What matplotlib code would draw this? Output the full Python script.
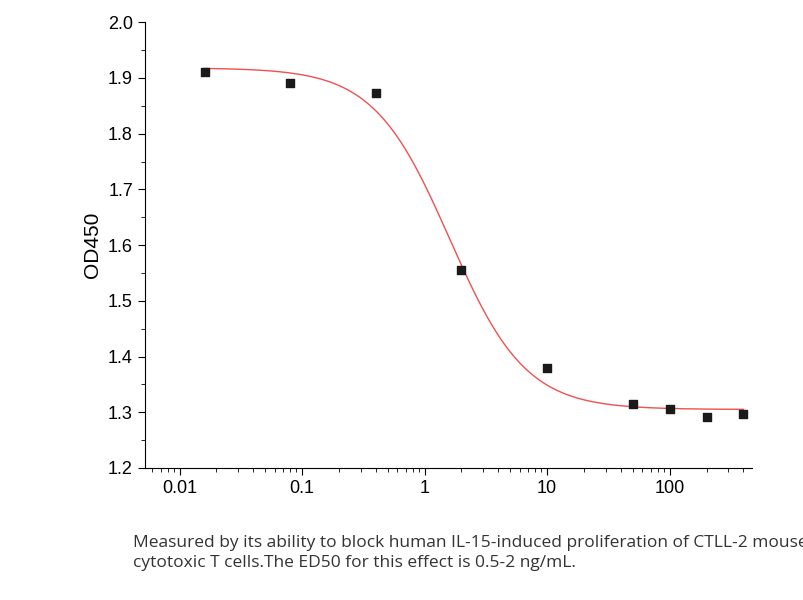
import numpy as np
import matplotlib
matplotlib.use("Agg")
import matplotlib.pyplot as plt
from matplotlib.ticker import LogLocator, MultipleLocator

conc = [0.016, 0.08, 0.4, 2, 10, 50, 100, 200, 400]
od = [1.910, 1.890, 1.873, 1.555, 1.380, 1.315, 1.305, 1.292, 1.297]
fit_top, fit_bottom, fit_ec50, fit_hill = 1.918, 1.305, 1.6, 1.4
xticks = [0.01, 0.1, 1, 10, 100]
xlabels = ["0.01", "0.1", "1", "10", "100"]
caption = ("Measured by its ability to block human IL-15-induced proliferation of CTLL-2 mouse\n"
           "cytotoxic T cells.The ED50 for this effect is 0.5-2 ng/mL.")

plt.rcParams['font.family'] = ['Liberation Sans', 'DejaVu Sans']
fig = plt.figure(figsize=(8.04, 6), dpi=100)
ax = fig.add_axes([0.180, 0.22, 0.755, 0.743])
xs = np.logspace(np.log10(0.016), np.log10(400), 400)
ys = fit_bottom + (fit_top - fit_bottom) / (1 + (xs / fit_ec50) ** fit_hill)
ax.plot(xs, ys, color="#f05050", lw=1.0)
ax.scatter(conc, od, marker="s", s=40, color="#1a1a1a", zorder=3)
ax.set_xscale("log")
ax.set_xlim(0.0052, 468)
ax.set_ylim(1.2, 2.0)
ax.set_xticks(xticks)
ax.set_xticklabels(xlabels)
ax.xaxis.set_minor_locator(LogLocator(subs=np.arange(2, 10)))
ax.yaxis.set_major_locator(MultipleLocator(0.1))
ax.yaxis.set_minor_locator(MultipleLocator(0.05))
ax.yaxis.set_major_formatter(matplotlib.ticker.FormatStrFormatter("%.1f"))
for s in ["top", "right"]:
    ax.spines[s].set_visible(False)
ax.tick_params(labelsize=13, direction="out", length=5)
ax.tick_params(which="minor", length=3)
ax.set_ylabel("OD450", fontsize=15)
fig.text(0.165, 0.055, caption, fontsize=12.5, color="#333333", family="Open Sans", linespacing=1.35)
fig.savefig("out.png", dpi=100)
